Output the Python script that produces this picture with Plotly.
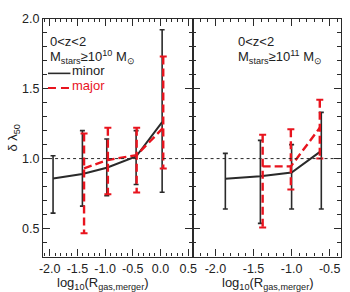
import plotly.graph_objects as go

# ---- data ----
# left panel (Mstars >= 1e10)
L_minor_x = [-1.94, -1.41, -0.97, -0.44, 0.03]
L_minor_y = [0.858, 0.89, 0.935, 1.015, 1.26]
L_minor_hi = [1.02, 1.20, 1.14, 1.20, 1.92]
L_minor_lo = [0.61, 0.66, 0.735, 0.815, 0.76]

L_major_x = [-1.38, -0.95, -0.43, 0.05]
L_major_y = [0.93, 0.99, 1.025, 1.22]
L_major_hi = [1.18, 1.22, 1.22, 1.73]
L_major_lo = [0.467, 0.746, 0.758, 0.93]

# right panel (Mstars >= 1e11)
R_minor_x = [-1.87, -1.41, -1.0, -0.61]
R_minor_y = [0.856, 0.874, 0.90, 1.055]
R_minor_hi = [1.037, 1.13, 1.10, 1.33]
R_minor_lo = [0.64, 0.537, 0.64, 0.64]

R_major_x = [-1.38, -1.01, -0.63]
R_major_y = [0.944, 0.944, 1.22]
R_major_hi = [1.17, 1.21, 1.42]
R_major_lo = [0.507, 0.78, 1.0]

L_xticks = [-2.0, -1.5, -1.0, -0.5, 0.0, 0.5]
L_xtext = ["-2.0", "-1.5", "-1.0", "-0.5", "0.0", "0.5"]
R_xticks = [-2.0, -1.5, -1.0, -0.5]
R_xtext = ["-2.0", "-1.5", "-1.0", "-0.5"]
yticks = [0.5, 1.0, 1.5, 2.0]
ytext = ["0.5", "1.0", "1.5", "2.0"]

BLACK = "#2a2a2a"
RED = "#e8141e"
FONT = "Liberation Sans, Arial, sans-serif"

fig = go.Figure()


def add_panel(xa, ya, mx, my, mhi, mlo, rx, ry, rhi, rlo):
    # minor (black) with error bars
    fig.add_trace(go.Scatter(
        x=mx, y=my, mode="lines", xaxis=xa, yaxis=ya,
        line=dict(color=BLACK, width=2),
        error_y=dict(type="data", symmetric=False,
                     array=[h - v for h, v in zip(mhi, my)],
                     arrayminus=[v - l for v, l in zip(my, mlo)],
                     color=BLACK, thickness=1.6, width=2.5),
        showlegend=False, hoverinfo="skip"))
    # major (red, dashed) error bars drawn as dashed segments
    ex, ey = [], []
    for x, h, l in zip(rx, rhi, rlo):
        ex += [x, x, None]
        ey += [h, l, None]
    fig.add_trace(go.Scatter(
        x=ex, y=ey, mode="lines", xaxis=xa, yaxis=ya,
        line=dict(color=RED, width=2.4, dash="8px,4px"),
        showlegend=False, hoverinfo="skip"))
    fig.add_trace(go.Scatter(
        x=rx + rx, y=rhi + rlo, mode="markers", xaxis=xa, yaxis=ya,
        marker=dict(symbol="line-ew", size=5, line=dict(color=RED, width=2)),
        showlegend=False, hoverinfo="skip"))
    fig.add_trace(go.Scatter(
        x=rx, y=ry, mode="lines", xaxis=xa, yaxis=ya,
        line=dict(color=RED, width=2.4, dash="8px,4px"),
        showlegend=False, hoverinfo="skip"))


add_panel("x", "y", L_minor_x, L_minor_y, L_minor_hi, L_minor_lo,
          L_major_x, L_major_y, L_major_hi, L_major_lo)
add_panel("x2", "y2", R_minor_x, R_minor_y, R_minor_hi, R_minor_lo,
          R_major_x, R_major_y, R_major_hi, R_major_lo)

W, H = 350, 292
ydom = [1 - 255.7 / H, 1 - 11.9 / H]

axis_common = dict(
    showline=True, linecolor=BLACK, linewidth=1.3, mirror="ticks",
    ticks="inside", ticklen=7, tickwidth=1.2, tickcolor=BLACK,
    showgrid=False, zeroline=False,
    tickfont=dict(family=FONT, size=12.5, color="#222"),
    minor=dict(dtick=0.1, tick0=0, ticks="inside", ticklen=3.5,
               tickwidth=1, tickcolor=BLACK, showgrid=False),
)

fig.update_layout(
    width=W, height=H, margin=dict(l=0, r=0, t=0, b=0),
    paper_bgcolor="white", plot_bgcolor="white",
    xaxis=dict(domain=[40 / W, 193 / W], range=[-2.12, 0.58],
               tickmode="array", tickvals=L_xticks, ticktext=L_xtext,
               anchor="y", **axis_common),
    yaxis=dict(domain=ydom, range=[0.3, 2.0], tickmode="array",
               tickvals=yticks, ticktext=ytext, anchor="x", **axis_common),
    xaxis2=dict(domain=[193 / W, 345 / W], range=[-2.3, -0.35],
                tickmode="array", tickvals=R_xticks, ticktext=R_xtext,
                anchor="y2", **axis_common),
    yaxis2=dict(domain=ydom, range=[0.3, 2.0], tickmode="array",
                tickvals=yticks, ticktext=ytext, showticklabels=False,
                anchor="x2", **axis_common),
)

# dotted reference lines at y = 1
for xr, yr in [("x domain", "y"), ("x2 domain", "y2")]:
    fig.add_shape(type="line", xref=xr, yref=yr, x0=0, x1=1, y0=1.0, y1=1.0,
                  line=dict(color=BLACK, width=1, dash="dot"))

def px(x):
    return x / W

def py(y):
    return 1 - y / H

txt = dict(family=FONT, size=13, color="#222")
ann = []
# left panel labels
ann.append(dict(x=px(45), y=py(35), text="0&lt;z&lt;2"))
ann.append(dict(x=px(45), y=py(51),
                text="M<sub>stars</sub>≥10<sup>10</sup> M<sub>⊙</sub>"))
ann.append(dict(x=px(68), y=py(65), text="minor"))
ann.append(dict(x=px(68), y=py(80), text="major", font=dict(family=FONT, size=13, color=RED)))
# right panel labels
ann.append(dict(x=px(237), y=py(35), text="0&lt;z&lt;2"))
ann.append(dict(x=px(237), y=py(51),
                text="M<sub>stars</sub>≥10<sup>11</sup> M<sub>⊙</sub>"))
for a in ann:
    a.setdefault("font", txt)
    fig.add_annotation(xref="paper", yref="paper", xanchor="left", yanchor="middle",
                       showarrow=False, **a)

# x titles
for cx in [101, 270]:
    fig.add_annotation(xref="paper", yref="paper", x=px(cx), y=py(283),
                       text="log<sub>10</sub>(R<sub>gas,merger</sub>)",
                       showarrow=False, xanchor="center", yanchor="middle", font=txt)
# y title
fig.add_annotation(xref="paper", yref="paper", x=px(10), y=py(134),
                   text="δ λ<sub>50</sub>", textangle=-90, showarrow=False,
                   xanchor="center", yanchor="middle",
                   font=dict(family=FONT, size=13, color="#222"))

# legend sample lines
fig.add_shape(type="line", xref="paper", yref="paper", x0=px(45), x1=px(68),
              y0=py(68), y1=py(68), line=dict(color=BLACK, width=1.6))
fig.add_shape(type="line", xref="paper", yref="paper", x0=px(45), x1=px(68),
              y0=py(83), y1=py(83), line=dict(color=RED, width=2, dash="8px,5px"))

fig.write_html("out.html")
